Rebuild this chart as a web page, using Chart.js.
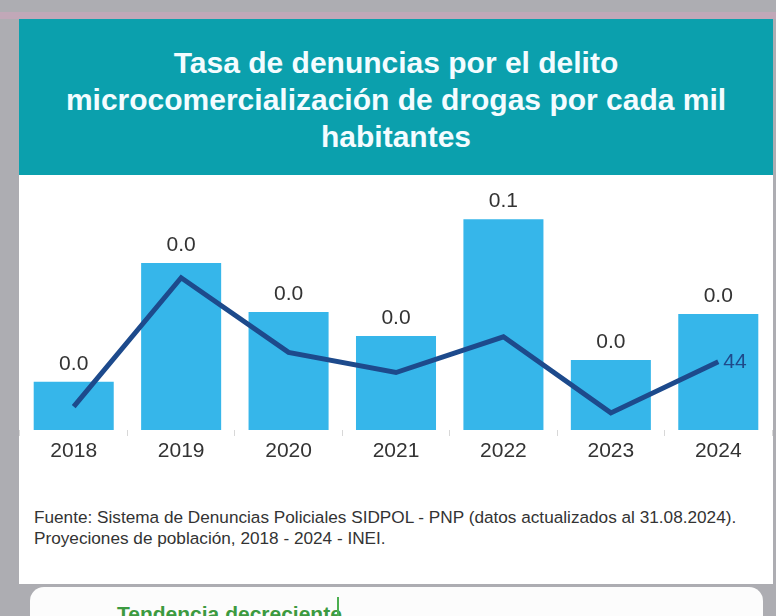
<!DOCTYPE html>
<html>
<head>
<meta charset="utf-8">
<script src="https://cdn.jsdelivr.net/npm/chart.js@4.4.1/dist/chart.umd.min.js"></script>
<style>
  html, body { margin: 0; padding: 0; }
  body { width: 776px; height: 616px; background: #adadb2; position: relative; overflow: hidden; font-family: "Liberation Sans", Arial, sans-serif; }
  #topband { position: absolute; left: 0; top: 12px; width: 776px; height: 7px; background: #c1a8b8; }
  #card { position: absolute; left: 19px; top: 19px; width: 754px; height: 565px; background: #ffffff; }
  #header { position: absolute; left: 0; top: 0; width: 754px; height: 156px; background: #0ba0ad; }
  #title { position: absolute; left: 0; top: 25px; width: 754px; text-align: center; color: #f4fcff; font-weight: bold; font-size: 30px; line-height: 37px; }
  #chartbox { position: absolute; left: 0; top: 156px; width: 754px; height: 305px; }
  #source { position: absolute; left: 15px; top: 488px; width: 740px; color: #333; font-size: 17.2px; line-height: 21px; white-space: nowrap; }
  #card2 { position: absolute; left: 30px; top: 587px; width: 733px; height: 60px; background: #fcfcfc; border-radius: 14px; }
  #card2 .t { position: absolute; left: 87px; top: 15px; color: #3c9a40; font-weight: bold; font-size: 21px; line-height: 24px; white-space: nowrap; }
  #card2 .bar { position: absolute; left: 307px; top: 10px; width: 2px; height: 30px; background: #4caf50; }
</style>
</head>
<body>
<div id="topband"></div>
<div id="card">
  <div id="header"><div id="title">Tasa de denuncias por el delito<br>microcomercialización de drogas por cada mil<br>habitantes</div></div>
  <div id="chartbox"><canvas id="c" width="754" height="305"></canvas></div>
  <div id="source">Fuente: Sistema de Denuncias Policiales SIDPOL - PNP (datos actualizados al 31.08.2024).<br>Proyeciones de población, 2018 - 2024 - INEI.</div>
</div>
<div id="card2"><div class="t">Tendencia decreciente</div><div class="bar"></div></div>
<script>
const years = ['2018', '2019', '2020', '2021', '2022', '2023', '2024'];
const tasa = [0.0124, 0.0430, 0.0304, 0.0242, 0.0543, 0.0180, 0.0299];
const denuncias = [15, 98, 50, 37, 60, 11, 44];

const labelPlugin = {
  id: 'labels',
  afterDatasetsDraw(chart) {
    const ctx = chart.ctx;
    ctx.save();
    const barMeta = chart.getDatasetMeta(1);
    ctx.font = '21px "Liberation Sans", Arial, sans-serif';
    ctx.fillStyle = '#333333';
    ctx.textAlign = 'center';
    ctx.textBaseline = 'bottom';
    barMeta.data.forEach((el, i) => {
      ctx.fillText(tasa[i].toFixed(1), el.x, el.y - 7);
    });
    const lineMeta = chart.getDatasetMeta(0);
    const last = lineMeta.data[lineMeta.data.length - 1];
    ctx.fillStyle = '#1f4a8a';
    ctx.textAlign = 'left';
    ctx.textBaseline = 'middle';
    ctx.fillText(String(denuncias[denuncias.length - 1]), last.x + 5, last.y + 1);
    ctx.restore();
  }
};

new Chart(document.getElementById('c'), {
  type: 'bar',
  data: {
    labels: years,
    datasets: [
      {
        type: 'line',
        label: 'Denuncias',
        data: denuncias,
        yAxisID: 'y2',
        borderColor: '#1d4a8c',
        borderWidth: 5,
        pointRadius: 0,
        tension: 0,
        fill: false,
        order: 0
      },
      {
        type: 'bar',
        label: 'Tasa',
        data: tasa,
        yAxisID: 'y',
        backgroundColor: '#36b6ea',
        barPercentage: 0.745,
        categoryPercentage: 1.0,
        order: 1
      }
    ]
  },
  options: {
    responsive: false,
    animation: false,
    events: [],
    layout: { padding: { top: 22, left: 1, right: 1, bottom: 0 } },
    plugins: { legend: { display: false }, tooltip: { enabled: false } },
    scales: {
      x: {
        grid: { drawOnChartArea: false, drawTicks: true, tickLength: 6, color: '#d8d8d8', offset: true },
        border: { display: false },
        ticks: { color: '#333333', font: { size: 21, family: '"Liberation Sans", Arial, sans-serif' }, padding: 3, maxRotation: 0 },
        afterFit(s) { s.height = 50; }
      },
      y: { display: false, min: 0, max: 0.06 },
      y2: { display: false, min: 0, max: 150 }
    }
  },
  plugins: [labelPlugin]
});
</script>
</body>
</html>
